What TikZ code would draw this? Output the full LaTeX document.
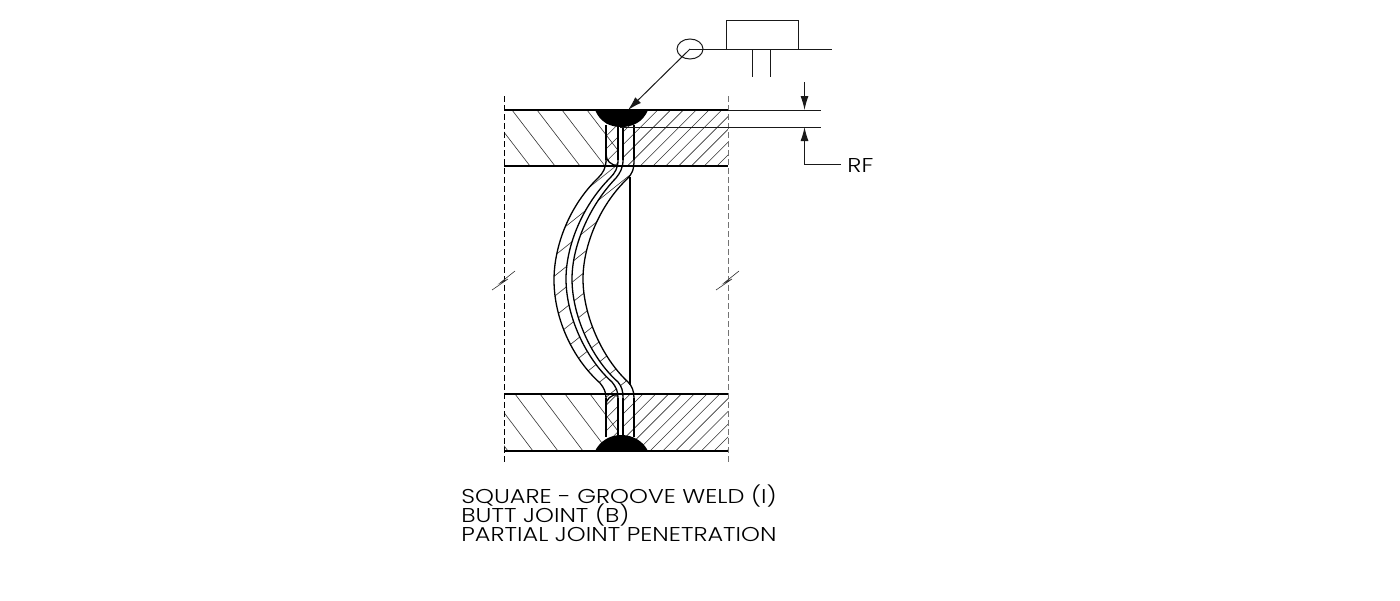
\documentclass[tikz,border=0pt]{standalone}
\usepackage{fontspec}
\setmainfont[FakeStretch=1.2]{Poppins Light}
\usetikzlibrary{positioning}
\usetikzlibrary{arrows.meta}
\usetikzlibrary{shapes.geometric}

\def\tubeA{(606,160) .. controls (606,168) and (603,173) .. (598,178) .. controls (570,205) and (554,245) .. (554,280) .. controls (554,318) and (572,358) .. (600,383) .. controls (604,388) and (606,392) .. (606,398)}
\def\tubeB{(618,160) .. controls (618,168) and (615,173) .. (610,178) .. controls (583,205) and (566,245) .. (566,279) .. controls (566,315) and (585,358) .. (612,382) .. controls (616,387) and (618,391) .. (618,398)}
\def\tubeBrev{-- (618,398) .. controls (618,391) and (616,387) .. (612,382) .. controls (585,358) and (566,315) .. (566,279) .. controls (566,245) and (583,205) .. (610,178) .. controls (615,173) and (618,168) .. (618,160)}
\def\tubeC{(623,160) .. controls (623,168) and (620,173) .. (616,178) .. controls (590,205) and (572,245) .. (572,279) .. controls (572,315) and (591,358) .. (618,382) .. controls (622,387) and (623,391) .. (623,398)}
\def\tubeD{(634,160) .. controls (634,170) and (632,174) .. (627,179) .. controls (600,205) and (583,245) .. (583,279) .. controls (583,315) and (602,358) .. (628,382) .. controls (632,386) and (634,391) .. (634,398)}
\def\tubeDrev{-- (634,398) .. controls (634,391) and (632,386) .. (628,382) .. controls (602,358) and (583,315) .. (583,279) .. controls (583,245) and (600,205) .. (627,179) .. controls (632,174) and (634,170) .. (634,160)}

\tikzset{
    thinline/.style={line width=0.5pt, black!90},
    hatchline/.style={line width=0.3pt, black!80},
    plateline/.style={line width=0.6pt, black},
    tubeline/.style={line width=0.65pt, black},
    endline/.style={line width=0.45pt, dash pattern=on 3pt off 1.5pt},
    dimarrow/.style={thinline, -{Latex[length=7pt, width=4pt]}},
    caption/.style={anchor=base west, inner sep=0pt, font=\fontsize{10}{11}\selectfont},
}

\begin{document}
\begin{tikzpicture}[x=0.5pt, y=-0.5pt]
    \useasboundingbox (0,0) rectangle (1400,600);

    % plate hatching
    \begin{scope}
        \clip (504,110) rectangle (618,166) (504,394) rectangle (618,451);
        \foreach \k in {-4,...,5} {
            \draw[hatchline] (512+25*\k,110) -- ++(43,56);
            \draw[hatchline] (515+25*\k,394) -- ++(43,57);
        }
    \end{scope}
    \begin{scope}
        \clip (606,110) rectangle (618,166) (623,110) rectangle (728,166)
              (606,394) rectangle (618,451) (623,394) rectangle (728,451);
        \foreach \k in {-8,...,7} {
            \draw[hatchline] (653+12.8*\k,166) -- ++(56,-56);
            \draw[hatchline] (650+12.8*\k,451) -- ++(57,-57);
        }
    \end{scope}

    % tube hatching
    \begin{scope}
        \clip \tubeA \tubeBrev -- cycle \tubeC \tubeDrev -- cycle;
        \foreach \k in {-5,...,10} {
            \draw[hatchline] (540,679+20.3*\k-432) -- ++(100,-80);
        }
    \end{scope}

    % plates
    \draw[plateline, line width=0.8pt] (504,110) -- (728,110);
    \draw[plateline] (504,166) -- (728,166);
    \draw[plateline] (504,394) -- (728,394);
    \draw[plateline, line width=0.8pt] (504,451) -- (728,451);

    % tube wall
    \draw[tubeline] \tubeA;
    \draw[tubeline] \tubeB;
    \draw[tubeline] \tubeC;
    \draw[tubeline] \tubeD;
    \draw[plateline] (630,177) -- (630,385);
    \foreach \xa in {606,618,623,634} {
        \draw[tubeline] (\xa,125) -- (\xa,160);
        \draw[tubeline] (\xa,398) -- (\xa,437);
    }
    \draw[tubeline] (606,154) .. controls (606,161) and (611,165) .. (618,166);
    \draw[tubeline] (606,405) .. controls (606,399) and (611,395) .. (618,394);

    % welds
    \fill (595,110) .. controls (600,122) and (610,127) .. (621,127)
        .. controls (633,127) and (643,122) .. (648,110) -- cycle;
    \fill (595,451) .. controls (600,441) and (610,435) .. (621,435)
        .. controls (633,435) and (643,441) .. (648,451) -- cycle;

    % ends and breaks
    \draw[endline] (504,96) -- (504,465);
    \draw[endline, black!55] (728,96) -- (728,465);
    \draw[hatchline] (515,271) -- (500,283) -- (508,279) -- (492,290);
    \draw[hatchline] (739,271) -- (724,283) -- (732,279) -- (716,290);

    % weld symbol
    \node[ellipse, draw, thinline, minimum width=13pt, minimum height=10pt, inner sep=0pt] (tail) at (690,49) {};
    \node[rectangle, draw, thinline, minimum width=36pt, minimum height=14.5pt, inner sep=0pt] (groovebox) at (762,34.5) {};
    \coordinate (refend) at (832,49);
    \coordinate (arrowtip) at (628,110);
    \coordinate (barA) at (752,49);
    \coordinate (barB) at (770,49);
    \draw[thinline] (tail.center) -- (refend);
    \draw[dimarrow] (tail.center) -- (arrowtip);
    \draw[thinline] (barA) -- ++(0,28);
    \draw[thinline] (barB) -- ++(0,28);

    % root face dimension
    \coordinate (dimtop) at (804.5,82);
    \coordinate (dimA) at (804.5,110);
    \coordinate (dimB) at (804.5,127);
    \coordinate (rfbend) at (804.5,164);
    \coordinate (rfstart) at (841,164);
    \node[caption] (rf) at (847,172) {RF};
    \draw[thinline] (728,110) -- (821,110);
    \draw[thinline] (620,127) -- (821,127);
    \draw[dimarrow] (dimtop) -- (dimA);
    \draw[dimarrow] (rfstart) -- (rfbend) -- (dimB);

    % caption
    \node[caption] (line1) at (461,503) {SQUARE - GROOVE WELD (I)};
    \node[caption] (line2) at (461,522) {BUTT JOINT (B)};
    \node[caption] (line3) at (461,541) {PARTIAL JOINT PENETRATION};
\end{tikzpicture}
\end{document}
